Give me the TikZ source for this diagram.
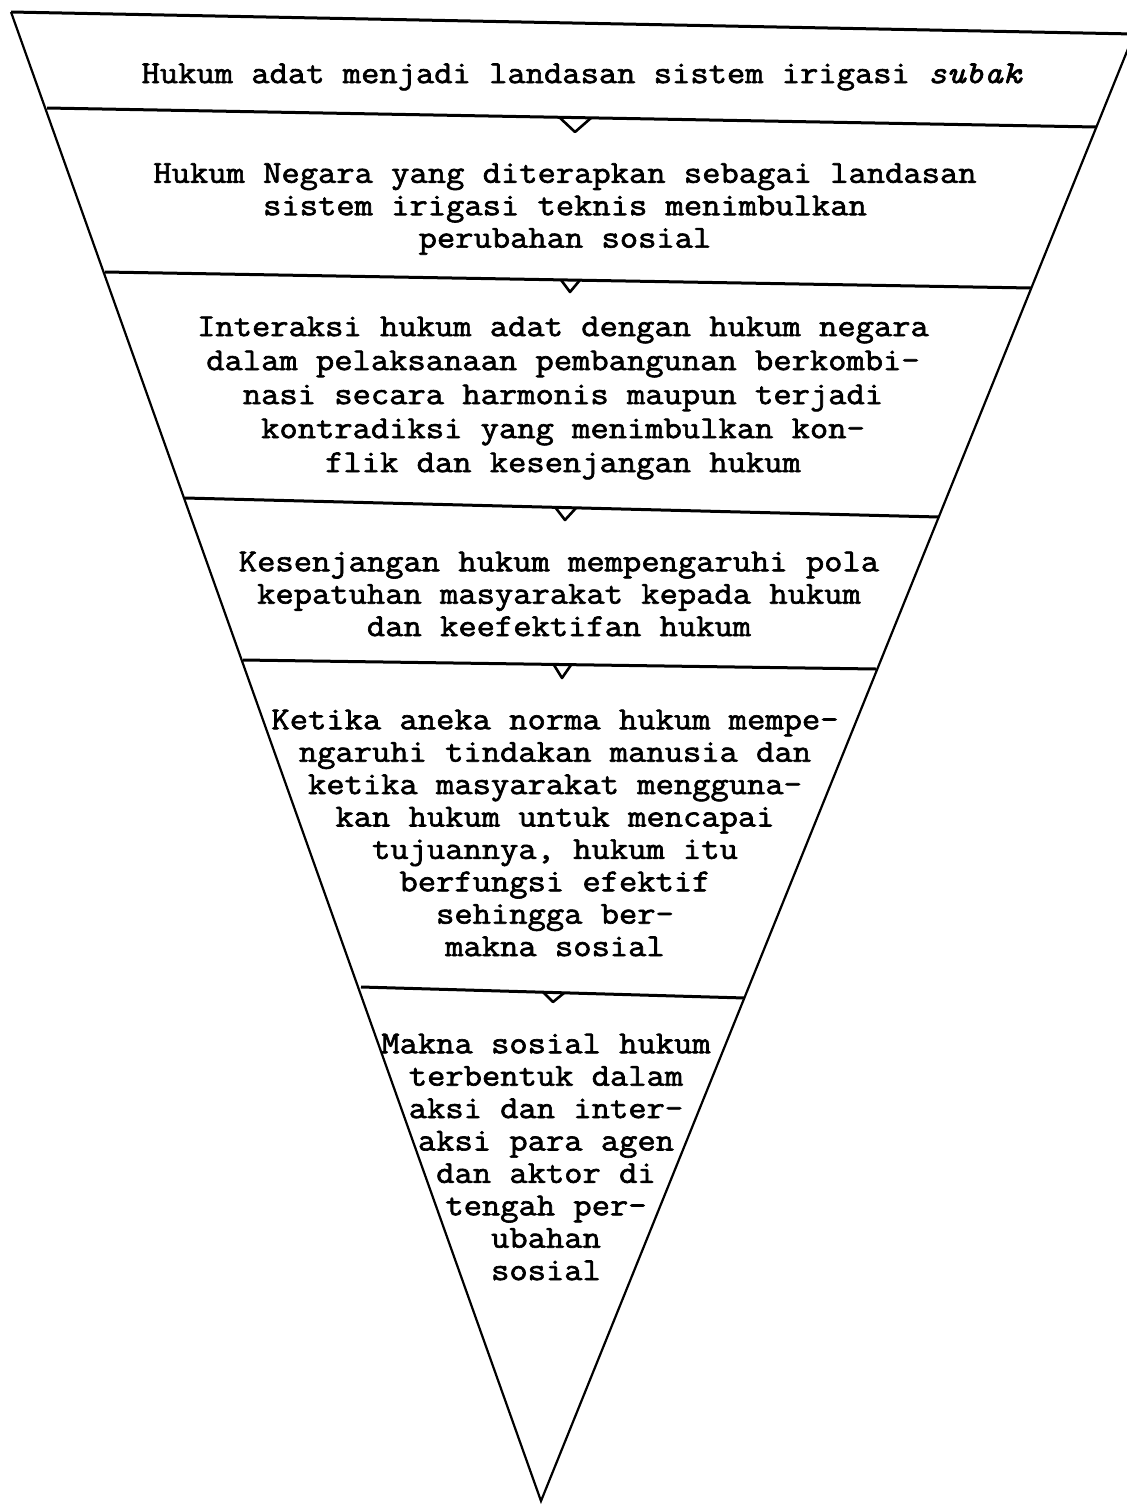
\documentclass[tikz,border=0pt]{standalone}
\usepackage{fontspec}
\newfontfamily\bandtt[FakeBold=2,FakeStretch=1.11]{Latin Modern Mono}
\usetikzlibrary{calc}

\newcommand{\bandfont}{\bandtt\fontsize{16}{16.2}\selectfont}
\tikzstyle{band} = [align=center,font=\bandfont,inner sep=0pt]
\tikzstyle{edge} = [line width=1.1pt,line join=miter]
\tikzstyle{divider} = [line width=1.5pt]
\tikzstyle{notch} = [line width=1.3pt,line join=round]

\begin{document}
\begin{tikzpicture}[x=0.5pt,y=-0.5pt]
	\useasboundingbox (0,0) rectangle (1127,1505);
	% corners of the bands
	\coordinate (l1) at (11,12);   \coordinate (r1) at (1134,34);
	\coordinate (l2) at (47,108);  \coordinate (r2) at (1096,127);
	\coordinate (l3) at (105,272); \coordinate (r3) at (1031,288);
	\coordinate (l4) at (185,498); \coordinate (r4) at (939,517);
	\coordinate (l5) at (243,660); \coordinate (r5) at (876,669);
	\coordinate (l6) at (361,987); \coordinate (r6) at (745,998);
	\coordinate (apex) at (541,1501);
	% outline
	\draw [edge] (l1) -- (apex) -- (r1);
	\draw [divider] (l1) -- (r1);
	\draw [divider] (l2) -- (r2);
	\draw [divider] (l3) -- (r3);
	\draw [divider] (l4) -- (r4);
	\draw [divider] (l5) -- (r5);
	\draw [divider] (l6) -- (r6);
	% notches under the dividers
	\draw [notch] (559,117) -- (575,132) -- (591,118);
	\draw [notch] (561,280) -- (570,292) -- (580,280);
	\draw [notch] (555,507) -- (565,520) -- (576,508);
	\draw [notch] (554,665) -- (562,678) -- (571,665);
	\draw [notch] (543,992) -- (553,1002) -- (564,993);
	% texts
	\node (adat) [band] at (582,77) {Hukum adat menjadi landasan sistem irigasi \textit{subak}};
	\node (negara) [band] at (565,209) {Hukum Negara yang diterapkan sebagai landasan\\sistem irigasi teknis menimbulkan\\perubahan sosial};
	\node (interaksi) [band,font=\bandtt\fontsize{16}{17}\selectfont] at (563,398) {Interaksi hukum adat dengan hukum negara\\dalam pelaksanaan pembangunan berkombi-\\nasi secara harmonis maupun terjadi\\kontradiksi yang menimbulkan kon-\\flik dan kesenjangan hukum};
	\node (kesenjangan) [band] at (559,594) {Kesenjangan hukum mempengaruhi pola\\kepatuhan masyarakat kepada hukum\\dan keefektifan hukum};
	\node (ketika) [band] at (555,833) {Ketika aneka norma hukum mempe-\\ngaruhi tindakan manusia dan\\ketika masyarakat mengguna-\\kan hukum untuk mencapai\\tujuannya, hukum itu\\berfungsi efektif\\sehingga ber-\\makna sosial};
	\node (makna) [band] at (546,1157) {Makna sosial hukum\\terbentuk dalam\\aksi dan inter-\\aksi para agen\\dan aktor di\\tengah per-\\ubahan\\sosial};
\end{tikzpicture}
\end{document}
